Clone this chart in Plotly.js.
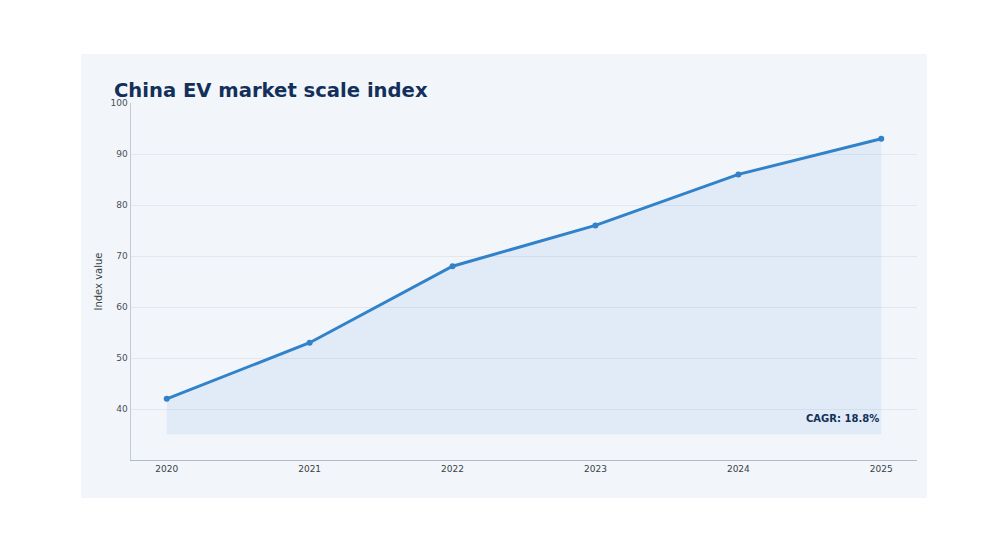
<!DOCTYPE html>
<html>
<head>
<meta charset="utf-8">
<script src="https://cdn.plot.ly/plotly-3.0.1.min.js"></script>
<style>
  html, body { margin: 0; padding: 0; background: #ffffff; }
  #chart { width: 1008px; height: 541px; }
</style>
</head>
<body>
<div id="chart"></div>
<script>
var years = [2020, 2021, 2022, 2023, 2024, 2025];
var indexValues = [42, 53, 68, 76, 86, 93];
var fillBase = 35;
var cagrLabel = 'CAGR: 18.8%';
var chartTitle = 'China EV market scale index';

var baseline = {
    x: years,
    y: years.map(function () { return fillBase; }),
    mode: 'lines',
    line: {width: 0, color: 'rgba(0,0,0,0)'},
    hoverinfo: 'skip',
    showlegend: false
};
var scale = {
    x: years,
    y: indexValues,
    mode: 'lines+markers',
    fill: 'tonexty',
    fillcolor: 'rgba(49,130,206,0.09)',
    line: {color: '#3182c8', width: 3},
    marker: {color: '#3182c8', size: 6},
    name: 'Index',
    showlegend: false
};

var layout = {
    width: 1008,
    height: 541,
    paper_bgcolor: '#ffffff',
    plot_bgcolor: 'rgba(0,0,0,0)',
    margin: {l: 131, r: 91, t: 103, b: 81},
    font: {family: 'DejaVu Sans', color: '#3a3f45'},
    title: {
        text: '<b>' + chartTitle + '</b>',
        font: {family: 'DejaVu Sans', size: 19.6, color: '#12305a'},
        xref: 'container', x: 0.113, xanchor: 'left',
        yref: 'container', y: 0.834, yanchor: 'middle'
    },
    xaxis: {
        range: [2019.75, 2025.25],
        tickvals: years,
        ticktext: years.map(String),
        showgrid: false,
        zeroline: false,
        showline: true,
        linecolor: '#b3bac2',
        linewidth: 1,
        ticks: '',
        tickfont: {size: 9, color: '#3a3f45'}
    },
    yaxis: {
        range: [30, 100],
        tickvals: [40, 50, 60, 70, 80, 90, 100],
        showgrid: true,
        gridcolor: '#e2e7ee',
        zeroline: false,
        showline: true,
        linecolor: '#c3c9d0',
        linewidth: 1.5,
        ticks: '',
        tickfont: {size: 9, color: '#4a4f55'},
        title: {text: 'Index value', font: {size: 10, color: '#3a3f45'}, standoff: 6}
    },
    shapes: [{
        type: 'rect', xref: 'paper', yref: 'paper', layer: 'below',
        x0: -0.0637, x1: 1.0127, y0: -0.1064, y1: 1.1373,
        fillcolor: '#f2f6fb', line: {width: 0}
    }],
    annotations: [{
        x: 2025, y: 38.2, xref: 'x', yref: 'y',
        text: '<b>' + cagrLabel + '</b>',
        showarrow: false, xanchor: 'right', yanchor: 'middle',
        font: {size: 10, color: '#12305a'}
    }]
};

Plotly.newPlot('chart', [baseline, scale], layout, {displayModeBar: false, staticPlot: true});
</script>
</body>
</html>
